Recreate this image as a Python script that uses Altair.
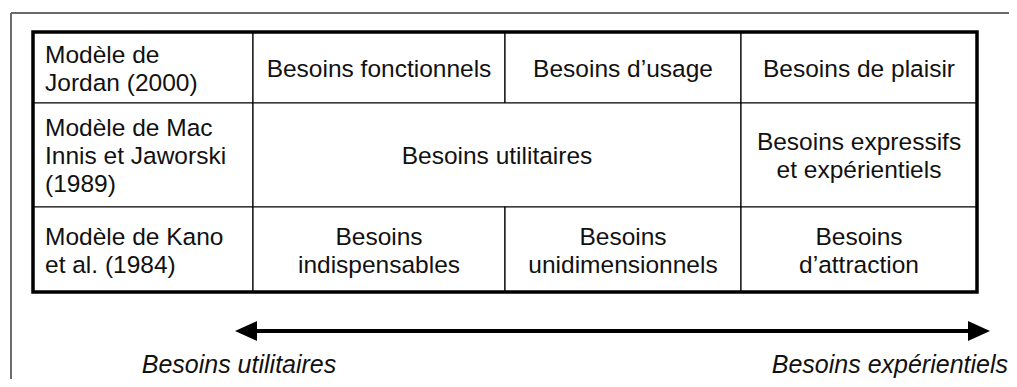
import altair as alt
import pandas as pd

# ---- table structure (page pixel grid of the figure) ----
col_edges = [33, 253, 505, 741, 977]
row_edges = [32, 103, 207, 292]

row_headers = [
    "Modèle de\nJordan (2000)",
    "Modèle de Mac\nInnis et Jaworski\n(1989)",
    "Modèle de Kano\net al. (1984)",
]

# (row, first column, last column exclusive, text)
cell_rows = [0, 0, 0, 1, 1, 2, 2, 2]
cell_c0 = [1, 2, 3, 1, 3, 1, 2, 3]
cell_c1 = [2, 3, 4, 3, 4, 2, 3, 4]
cell_texts = [
    "Besoins fonctionnels",
    "Besoins d’usage",
    "Besoins de plaisir",
    "Besoins utilitaires",
    "Besoins expressifs\net expérientiels",
    "Besoins\nindispensables",
    "Besoins\nunidimensionnels",
    "Besoins\nd’attraction",
]

axis_left_label = "Besoins utilitaires"
axis_right_label = "Besoins expérientiels"
arrow_x = [235, 990]
arrow_y = 331
label_y = 372.5
label_x = [239, 1008]

frame_x = 11
frame_y = 13

FONT = "Liberation Sans"
FS = 24.5
LH = 28
W, H = 1001, 371

xs = alt.Scale(domain=[8, 8 + W], nice=False, zero=False)
ys = alt.Scale(domain=[8, 8 + H], nice=False, zero=False, reverse=True)


def text_y(r, t):
    n = t.count("\n") + 1
    return (row_edges[r] + row_edges[r + 1]) / 2 - (n - 1) * LH / 2 + 2


# ---- build tables ----
cells = []
for r, h in enumerate(row_headers):
    cells.append(dict(x0=col_edges[0], x1=col_edges[1], y0=row_edges[r], y1=row_edges[r + 1],
                      text=h, tx=col_edges[0] + 12, ty=text_y(r, h), kind="head"))
for r, c0, c1, t in zip(cell_rows, cell_c0, cell_c1, cell_texts):
    cells.append(dict(x0=col_edges[c0], x1=col_edges[c1], y0=row_edges[r], y1=row_edges[r + 1],
                      text=t, tx=(col_edges[c0] + col_edges[c1]) / 2, ty=text_y(r, t), kind="body"))
cells_df = pd.DataFrame(cells)

outer_df = pd.DataFrame([dict(x0=col_edges[0], x1=col_edges[-1], y0=row_edges[0], y1=row_edges[-1])])

frame_df = pd.DataFrame([
    dict(x0=frame_x, x1=frame_x, y0=frame_y, y1=8 + H),
    dict(x0=frame_x, x1=8 + W, y0=frame_y, y1=frame_y),
])

arrow_df = pd.DataFrame([dict(x0=arrow_x[0] + 14, x1=arrow_x[1] - 14, y=arrow_y)])
heads_df = pd.DataFrame([
    dict(x=arrow_x[0], y=arrow_y, shape="M 0 0 L 2 -0.9 L 2 0.9 Z"),
    dict(x=arrow_x[1], y=arrow_y, shape="M 0 0 L -2 -0.9 L -2 0.9 Z"),
])
labels_df = pd.DataFrame([
    dict(x=label_x[0], y=label_y, text=axis_left_label),
    dict(x=label_x[1], y=label_y, text=axis_right_label),
])

frame = alt.Chart(frame_df).mark_rule(color="#6b6b6b", strokeWidth=2).encode(
    x=alt.X("x0:Q", scale=xs, axis=None), x2="x1:Q",
    y=alt.Y("y0:Q", scale=ys, axis=None), y2="y1:Q",
)

rects = alt.Chart(cells_df).mark_rect(fill="white", stroke="black", strokeWidth=1.2).encode(
    x=alt.X("x0:Q", scale=xs, axis=None), x2="x1:Q",
    y=alt.Y("y0:Q", scale=ys, axis=None), y2="y1:Q",
)

outer = alt.Chart(outer_df).mark_rect(fillOpacity=0, stroke="black", strokeWidth=3.5).encode(
    x=alt.X("x0:Q", scale=xs, axis=None), x2="x1:Q",
    y=alt.Y("y0:Q", scale=ys, axis=None), y2="y1:Q",
)

head_text = alt.Chart(cells_df).transform_filter(alt.datum.kind == "head").mark_text(
    font=FONT, fontSize=FS, align="left", baseline="middle", lineBreak="\n", lineHeight=LH,
    color="#111111",
).encode(
    x=alt.X("tx:Q", scale=xs, axis=None), y=alt.Y("ty:Q", scale=ys, axis=None), text="text:N",
)

body_text = alt.Chart(cells_df).transform_filter(alt.datum.kind == "body").mark_text(
    font=FONT, fontSize=FS, align="center", baseline="middle", lineBreak="\n", lineHeight=LH,
    color="#111111",
).encode(
    x=alt.X("tx:Q", scale=xs, axis=None), y=alt.Y("ty:Q", scale=ys, axis=None), text="text:N",
)

arrow_line = alt.Chart(arrow_df).mark_rule(color="black", strokeWidth=4).encode(
    x=alt.X("x0:Q", scale=xs, axis=None), x2="x1:Q",
    y=alt.Y("y:Q", scale=ys, axis=None),
)

heads = alt.Chart(heads_df).mark_point(filled=True, color="black", opacity=1, size=484, strokeWidth=0).encode(
    x=alt.X("x:Q", scale=xs, axis=None), y=alt.Y("y:Q", scale=ys, axis=None),
    shape=alt.Shape("shape:N", scale=None),
)

labels_l = alt.Chart(labels_df.iloc[[0]]).mark_text(
    font=FONT, fontSize=25, fontStyle="italic", align="center", baseline="alphabetic", color="#111111",
).encode(x=alt.X("x:Q", scale=xs, axis=None), y=alt.Y("y:Q", scale=ys, axis=None), text="text:N")

labels_r = alt.Chart(labels_df.iloc[[1]]).mark_text(
    font=FONT, fontSize=25, fontStyle="italic", align="right", baseline="alphabetic", color="#111111",
).encode(x=alt.X("x:Q", scale=xs, axis=None), y=alt.Y("y:Q", scale=ys, axis=None), text="text:N")

chart = alt.layer(frame, rects, outer, head_text, body_text, arrow_line, heads, labels_l, labels_r).properties(
    width=W, height=H, autosize="none", padding=0, background="white",
).configure_view(stroke=None)

chart.save("out.html", embed_options={"renderer": "svg", "actions": False})
